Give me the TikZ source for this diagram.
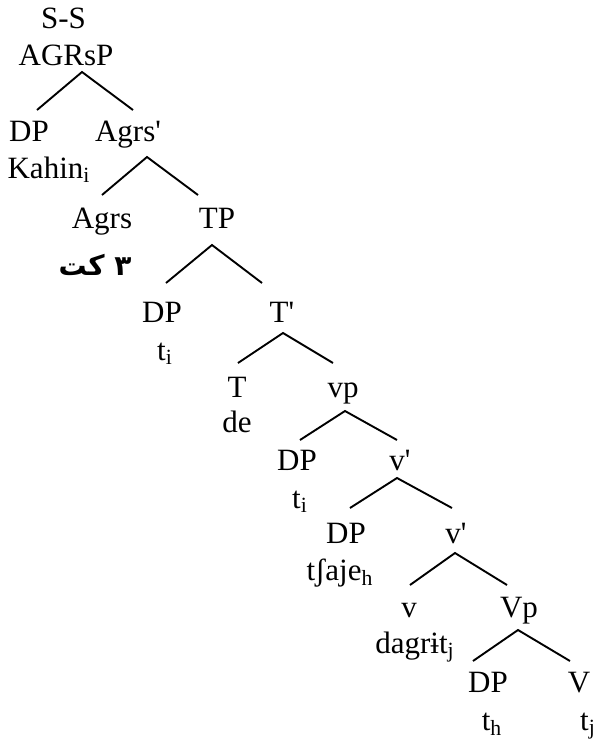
\documentclass[tikz,border=0pt]{standalone}
\usepackage{fontspec}
\setmainfont{Liberation Serif}
\newfontfamily\arabicfont[Script=Arabic]{DejaVu Sans}
\TeXXeTstate=1
\begin{document}
\begin{tikzpicture}[x=0.5pt,y=-0.5pt,
  lab/.style={font=\fontsize{15.5pt}{18pt}\selectfont, anchor=base, inner sep=0pt},
  branch/.style={line width=0.95pt}]
\useasboundingbox (0,0) rectangle (596,740);
% labels
\node[lab] (SS) at (63.5,28) {S-S};
\node[lab] (AGRsP) at (66,65) {AGRsP};
\node[lab] (DPa) at (29,141) {DP};
\node[lab] (Agrsbar) at (128,141) {Agrs\textquotesingle};
\node[lab] (Kahin) at (49,178) {Kahin\textsubscript{i}};
\node[lab] (Agrs) at (102,228) {Agrs};
\node[lab] (TP) at (217,228) {TP};
\node[lab] (arab) at (95,275) {\arabicfont\bfseries\fontsize{14pt}{16pt}\selectfont\beginR ٣ كت\endR};
\node[lab] (DPb) at (162,322) {DP};
\node[lab] (Tbar) at (282,322) {T\textquotesingle};
\node[lab] (tia) at (165,360) {t\textsubscript{i}};
\node[lab] (T) at (237,397) {T};
\node[lab] (vp) at (343,397) {vp};
\node[lab] (de) at (237,432) {de};
\node[lab] (DPc) at (297,470) {DP};
\node[lab] (vbara) at (400,470) {v\textquotesingle};
\node[lab] (tib) at (300,508) {t\textsubscript{i}};
\node[lab] (DPd) at (346,543) {DP};
\node[lab] (vbarb) at (456,543) {v\textquotesingle};
\node[lab] (tsaje) at (340,580) {tʃaje\textsubscript{h}};
\node[lab] (v) at (409,617) {v};
\node[lab] (Vp) at (519,617) {Vp};
\node[lab] (dagrit) at (415,653) {dagrɨt\textsubscript{j}};
\node[lab] (DPe) at (488,692) {DP};
\node[lab] (V) at (579,692) {V};
\node[lab] (th) at (492,730) {t\textsubscript{h}};
\node[lab] (tj) at (588,730) {t\textsubscript{j}};
% branch points
\coordinate (a0) at (82,72);  \coordinate (a1) at (37,110);  \coordinate (a2) at (133,110);
\coordinate (b0) at (147,157); \coordinate (b1) at (102,195); \coordinate (b2) at (198,195);
\coordinate (c0) at (212,245); \coordinate (c1) at (166,283); \coordinate (c2) at (262,283);
\coordinate (d0) at (283,333); \coordinate (d1) at (238,363); \coordinate (d2) at (333,363);
\coordinate (e0) at (345,411); \coordinate (e1) at (300,440); \coordinate (e2) at (397,440);
\coordinate (f0) at (397,478); \coordinate (f1) at (350,508); \coordinate (f2) at (452,508);
\coordinate (g0) at (455,553); \coordinate (g1) at (410,585); \coordinate (g2) at (507,585);
\coordinate (h0) at (518,630); \coordinate (h1) at (473,661); \coordinate (h2) at (570,661);
\foreach \p in {a,b,c,d,e,f,g,h}{
  \draw[branch] (\p1) -- (\p0) -- (\p2);
}
\end{tikzpicture}
\end{document}
